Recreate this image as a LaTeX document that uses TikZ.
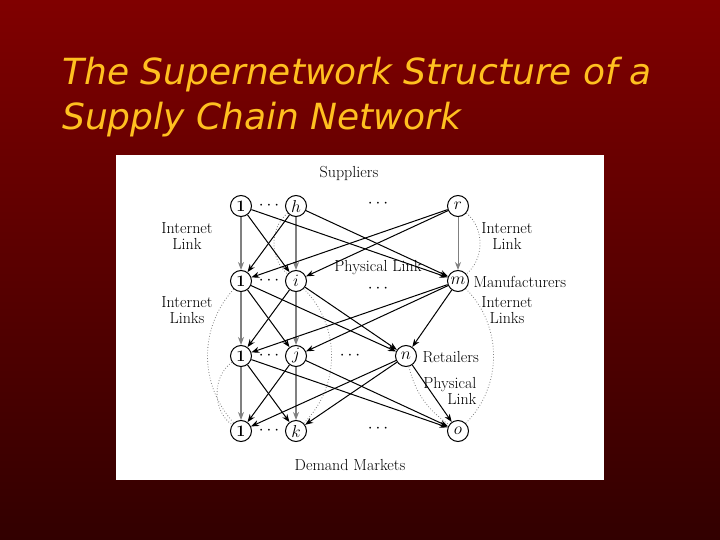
\documentclass[tikz,border=0pt]{standalone}
\usepackage{fontspec}
\newfontfamily\titlefont{DejaVu Sans}
\usepackage{tikz}
\usetikzlibrary{arrows.meta}

\definecolor{slidetop}{RGB}{128,0,0}
\definecolor{slidebottom}{RGB}{50,0,0}
\definecolor{titleyellow}{RGB}{255,192,32}

\tikzset{
  firm/.style={circle, draw, line width=1pt, minimum size=21pt, inner sep=0pt, fill=white, font=\fontsize{16}{14}\selectfont},
  tag/.style={align=center, font=\fontsize{16}{16}\selectfont},
  gap/.style={inner sep=0pt, font=\fontsize{16}{16}\selectfont},
  link/.style={-{Stealth[length=8pt,width=6pt]}, line width=1pt},
  phys/.style={link, gray, line width=1.5pt},
  web/.style={dotted, gray, line width=0.8pt},
}

\begin{document}
\begin{tikzpicture}[x=1pt, y=-1pt]
        \shade[top color=slidetop, bottom color=slidebottom] (0,0) rectangle (720,540);
        \useasboundingbox (0,0) rectangle (720,540);

        \node[anchor=base west, text=titleyellow, inner sep=0pt, font=\titlefont\itshape\fontsize{36}{45}\selectfont] (title1) at (62,85)  {The Supernetwork Structure of a};
        \node[anchor=base west, text=titleyellow, inner sep=0pt, font=\titlefont\itshape\fontsize{36}{45}\selectfont] (title2) at (62,130) {Supply Chain Network};

        \fill[white] (116,155) rectangle (604,480);  %figure

        \node[firm] (s1) at (241,206) {\textbf{1}};  %suppliers
        \node[firm] (sh) at (296,206) {$h$};
        \node[firm] (sr) at (458,206) {$r$};
        \node[firm] (m1) at (241,281) {\textbf{1}};  %manufacturers
        \node[firm] (mi) at (296,281) {$i$};
        \node[firm] (mm) at (458,281) {$m$};
        \node[firm] (r1) at (241,356) {\textbf{1}};  %retailers
        \node[firm] (rj) at (296,356) {$j$};
        \node[firm] (rn) at (406,356) {$n$};
        \node[firm] (d1) at (241,431) {\textbf{1}};  %demand markets
        \node[firm] (dk) at (296,431) {$k$};
        \node[firm] (do) at (458,431) {$o$};

        \node[gap] (dots1) at (269,206) {$\cdots$};
        \node[gap] (dots2) at (378,204) {$\cdots$};
        \node[gap] (dots3) at (269,281) {$\cdots$};
        \node[gap] (dots4) at (378,289) {$\cdots$};
        \node[gap] (dots5) at (269,356) {$\cdots$};
        \node[gap] (dots6) at (350,356) {$\cdots$};
        \node[gap] (dots7) at (269,431) {$\cdots$};
        \node[gap] (dots8) at (378,429) {$\cdots$};

        % internet links
        \draw[web] (sh) to[bend right=50] (mi);
        \draw[web] (sr) to[bend left=50] (mm);
        \draw[web] (m1) to[bend right=42] (d1);
        \draw[web] (mm) to[bend left=45] (do);
        \draw[web] (r1) to[bend right=55] (d1);
        \draw[web] (mi) to[bend left=45] (dk);
        \draw[web] (rn) to[bend right=20] (do);

        % physical links
        \draw[phys] (s1) -- (m1);
        \draw[phys] (sh) -- (mi);
        \draw[link, gray] (sr) -- (mm);
        \draw[link] (s1) -- (mi);
        \draw[link] (s1) -- (mm);
        \draw[link] (sh) -- (m1);
        \draw[link] (sh) -- (mm);
        \draw[link] (sr) -- (m1);
        \draw[link] (sr) -- (mi);

        \draw[phys] (m1) -- (r1);
        \draw[phys] (mi) -- (rj);
        \draw[link] (m1) -- (rj);
        \draw[link] (m1) -- (rn);
        \draw[link] (mi) -- (r1);
        \draw[link] (mi) -- (rn);
        \draw[link] (mm) -- (r1);
        \draw[link] (mm) -- (rj);
        \draw[link] (mm) -- (rn);

        \draw[phys] (r1) -- (d1);
        \draw[phys] (rj) -- (dk);
        \draw[link] (r1) -- (dk);
        \draw[link] (r1) -- (do);
        \draw[link] (rj) -- (d1);
        \draw[link] (rj) -- (do);
        \draw[link] (rn) -- (d1);
        \draw[link] (rn) -- (dk);
        \draw[link] (rn) -- (do);

        \node[tag] (suppliers) at (349,173) {Suppliers};
        \node[tag] (netl1) at (187,236) {Internet\\Link};
        \node[tag] (netr1) at (507,236) {Internet\\Link};
        \node[tag, inner sep=0pt] (physmid) at (378,268) {Physical Link};
        \node[tag, anchor=west] (manuf) at (470,282) {Manufacturers};
        \node[tag] (netl2) at (187,310) {Internet\\Links};
        \node[tag] (netr2) at (507,310) {Internet\\Links};
        \node[tag, anchor=west] (retail) at (419,357) {Retailers};
        \node[tag, align=right, anchor=east] (physright) at (480,391) {Physical\\Link};
        \node[tag] (demand) at (350,465) {Demand Markets};
      \end{tikzpicture}
\end{document}
